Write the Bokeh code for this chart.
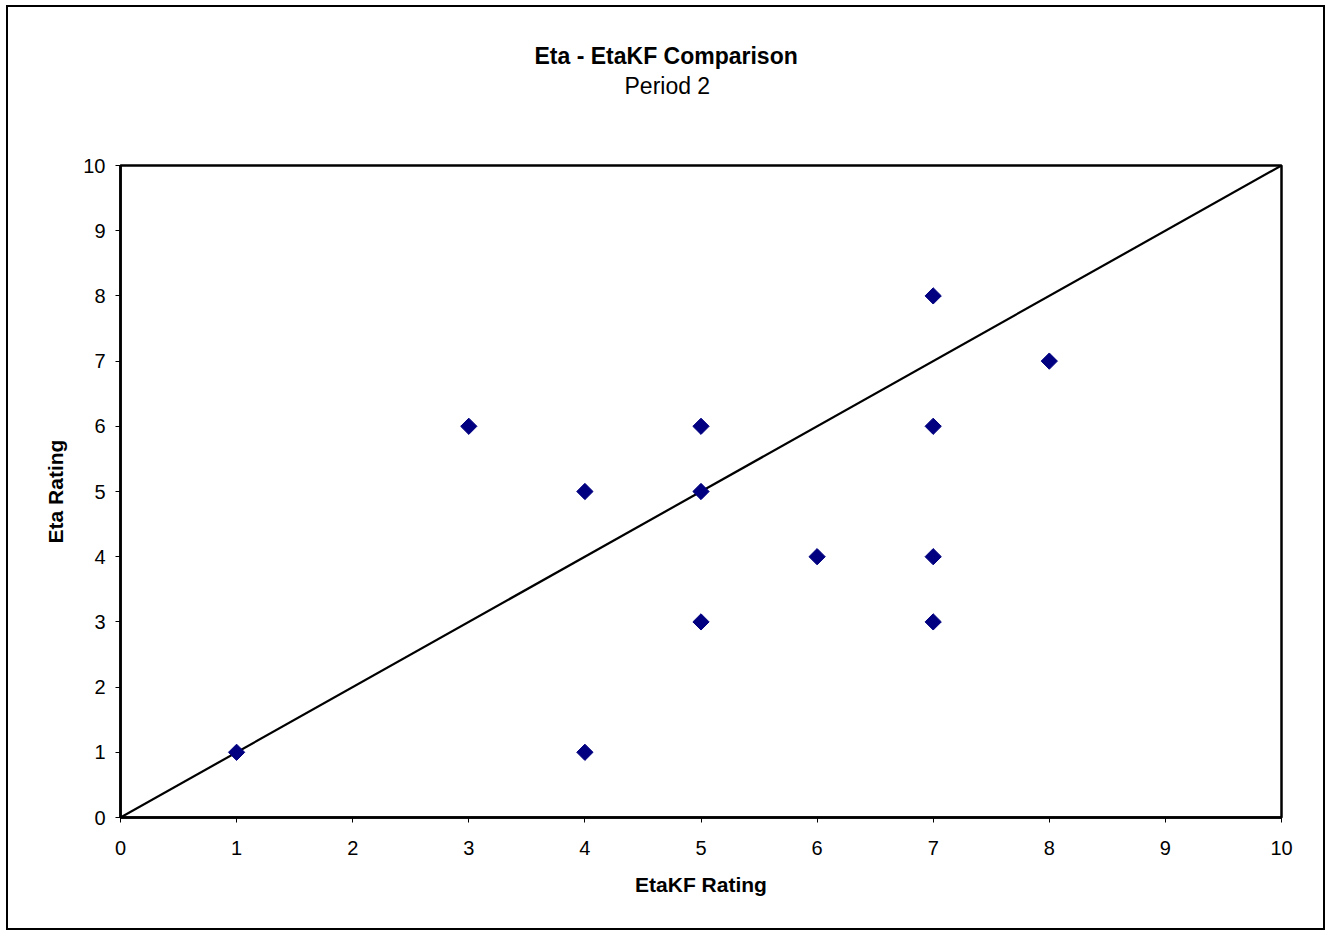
import math
from bokeh.plotting import figure
from bokeh.models import Title, FixedTicker
from bokeh.embed import file_html
from bokeh.resources import INLINE

# Data
etakf_rating = [1, 3, 4, 4, 5, 5, 5, 6, 7, 7, 7, 7, 8]
eta_rating   = [1, 6, 5, 1, 6, 5, 3, 4, 8, 6, 4, 3, 7]
line_x = [0, 10]
line_y = [0, 10]
ticks = list(range(0, 11))

title_text = "Eta - EtaKF Comparison"
subtitle_text = "Period 2"
x_label = "EtaKF Rating"
y_label = "Eta Rating"

FONT = "Liberation Sans"

p = figure(width=1319, height=925, output_backend="svg", toolbar_location=None,
           x_range=(0, 10), y_range=(0, 10),
           min_border_left=112, min_border_right=46,
           min_border_top=158, min_border_bottom=115)
p.margin = (5, 0, 0, 6)
p.styles = {"border": "2px solid black"}

p.grid.visible = False
p.outline_line_color = "black"
p.outline_line_width = 2.5
p.background_fill_color = "white"
p.border_fill_color = "white"

for ax in (p.xaxis[0], p.yaxis[0]):
    ax.ticker = FixedTicker(ticks=ticks)
    ax.axis_line_color = "black"
    ax.axis_line_width = 2.5
    ax.major_tick_in = 0
    ax.major_tick_out = 5
    ax.major_tick_line_color = "black"
    ax.major_tick_line_width = 1
    ax.minor_tick_line_color = None
    ax.major_label_text_font = FONT
    ax.major_label_text_font_size = "20px"
    ax.major_label_text_color = "black"
    ax.axis_label_text_font = FONT
    ax.axis_label_text_font_size = "21px"
    ax.axis_label_text_font_style = "bold"
    ax.axis_label_text_color = "black"

p.xaxis.axis_label = x_label
p.yaxis.axis_label = y_label
p.xaxis.major_label_standoff = 18
p.xaxis.axis_label_standoff = 15
p.yaxis.major_label_standoff = 10
p.yaxis.axis_label_standoff = 13

p.line(line_x, line_y, line_color="black", line_width=2.2)
p.scatter(etakf_rating, eta_rating, marker="square", angle=math.pi / 4, size=11.5,
          fill_color="#000080", line_color="#000080")

# Titles: panels stack outward from the frame in the order added
p.add_layout(Title(text=" ", align="left", offset=0, vertical_align="top",
                   standoff=39, text_font=FONT, text_font_size="20px"), "above")
p.add_layout(Title(text=subtitle_text, align="left", offset=504, vertical_align="top",
                   standoff=4, text_font=FONT, text_font_size="23px",
                   text_font_style="normal", text_color="black"), "above")
p.add_layout(Title(text=title_text, align="left", offset=414, vertical_align="bottom",
                   standoff=4, text_font=FONT, text_font_size="23px",
                   text_font_style="bold", text_color="black"), "above")

open("out.html", "w").write(file_html(p, INLINE))
